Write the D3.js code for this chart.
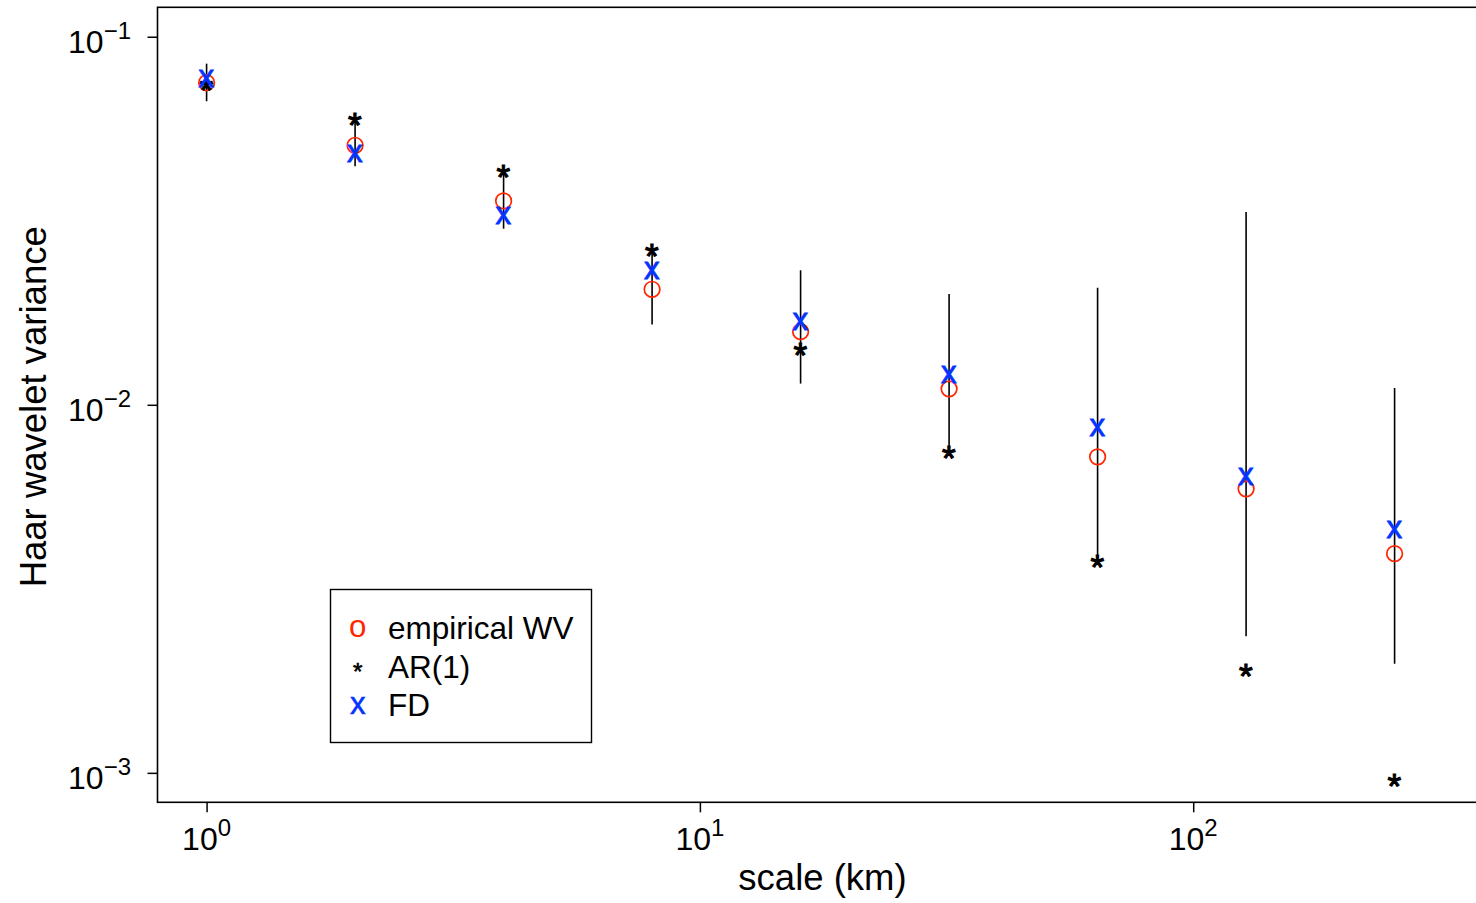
<!DOCTYPE html>
<html>
<head>
<meta charset="utf-8">
<script src="https://cdn.jsdelivr.net/npm/d3@7"></script>
<style>
  html, body { margin: 0; padding: 0; background: #fff; }
  svg { display: block; }
  text { font-family: "Liberation Sans", Arial, Helvetica, sans-serif; }
</style>
</head>
<body>
<svg id="chart" width="1476" height="903"></svg>
<script>
// ---- data ----
const scales = [1, 2, 4, 8, 16, 32, 64, 128, 256];
const empiricalWV = [0.0750, 0.0507, 0.0358, 0.0206, 0.0158, 0.01105, 0.00722, 0.00591, 0.00394];
const ciLower = [0.0668, 0.0445, 0.0301, 0.01653, 0.01142, 0.00742, 0.00373, 0.00235, 0.00198];
const ciUpper = [0.0845, 0.0585, 0.0436, 0.0269, 0.0232, 0.0200, 0.0208, 0.0334, 0.0111];
const ar1 = [0.0742, 0.0596, 0.0431, 0.0262, 0.0141, 0.00741, 0.00376, 0.00190, 0.000953];
const fd = [0.0770, 0.0482, 0.0327, 0.0232, 0.0168, 0.0121, 0.00866, 0.00637, 0.00458];
const xTickExps = [0, 1, 2];
const yTickExps = [-1, -2, -3];
const legendLabels = ["empirical WV", "AR(1)", "FD"];
const xTitle = "scale (km)";
const yTitle = "Haar wavelet variance";

// ---- layout ----
const RED = "#FF2600", BLUE = "#0433FF";
const FONT = '"Liberation Sans", Arial, Helvetica, sans-serif';
const plot = { left: 157.5, right: 1477.5, top: 7.3, bottom: 802.3 };
const svg = d3.select("#chart");

const x = d3.scaleLog().domain([Math.pow(10, -0.0995), Math.pow(10, 2.5763)]).range([plot.left, plot.right]);
const y = d3.scaleLog().domain([Math.pow(10, -0.92), Math.pow(10, -3.08)]).range([plot.top, plot.bottom]);

// glyph measuring helper for centring marker characters
const cnv = document.createElement("canvas").getContext("2d");
function glyphMetrics(ch, size) {
  cnv.font = size + "px " + FONT;
  const m = cnv.measureText(ch);
  return { l: m.actualBoundingBoxLeft, r: m.actualBoundingBoxRight, a: m.actualBoundingBoxAscent, d: m.actualBoundingBoxDescent };
}
function glyph(g, ch, size, cx, cy, color, sw) {
  const m = glyphMetrics(ch, size);
  g.append("text")
    .attr("x", cx - (m.r - m.l) / 2)
    .attr("y", cy + (m.a - m.d) / 2)
    .attr("font-size", size)
    .attr("fill", color)
    .attr("stroke", sw ? color : "none")
    .attr("stroke-width", sw || 0)
    .text(ch);
}
function sizeForWidth(ch, w) {
  const m = glyphMetrics(ch, 100);
  return 100 * w / (m.r + m.l);
}

// ---- axes ----
const xAxis = d3.axisBottom(x).tickValues(xTickExps.map(e => Math.pow(10, e))).tickSize(10).tickFormat("");
const yAxis = d3.axisLeft(y).tickValues(yTickExps.map(e => Math.pow(10, e))).tickSize(10).tickFormat("");
const gx = svg.append("g").attr("transform", `translate(0,${plot.bottom})`).call(xAxis);
const gy = svg.append("g").attr("transform", `translate(${plot.left},0)`).call(yAxis);
[gx, gy].forEach(g => {
  g.select(".domain").remove();
  g.selectAll("line").attr("stroke", "#000").attr("stroke-width", 1.5);
});

const tickFs = 32;
// x tick labels
xTickExps.forEach(e => {
  const t = svg.append("text")
    .attr("x", x(Math.pow(10, e)))
    .attr("y", 850)
    .attr("text-anchor", "middle")
    .attr("font-size", tickFs);
  t.append("tspan").text("10");
  t.append("tspan").attr("font-size", tickFs * 0.75).attr("dy", -14).text(String(e));
});
// y tick labels
yTickExps.forEach(e => {
  const t = svg.append("text")
    .attr("x", 131)
    .attr("y", y(Math.pow(10, e)) + 16)
    .attr("text-anchor", "end")
    .attr("font-size", tickFs);
  t.append("tspan").text("10");
  t.append("tspan").attr("font-size", tickFs * 0.75).attr("dy", -14).text("\u2212" + Math.abs(e));
});

// axis titles
svg.append("text")
  .attr("x", (plot.left + plot.right) / 2 + 5)
  .attr("y", 890)
  .attr("text-anchor", "middle")
  .attr("font-size", 36.5)
  .text(xTitle);
svg.append("text")
  .attr("transform", `translate(46,${(plot.top + plot.bottom) / 2 + 2}) rotate(-90)`)
  .attr("text-anchor", "middle")
  .attr("font-size", 36.5)
  .text(yTitle);

// ---- data marks ----
const rows = scales.map((s, i) => ({ s, wv: empiricalWV[i], lo: ciLower[i], hi: ciUpper[i], ar: ar1[i], fd: fd[i] }));

svg.append("g").selectAll("line").data(rows).join("line")
  .attr("x1", d => x(d.s)).attr("x2", d => x(d.s))
  .attr("y1", d => y(d.lo)).attr("y2", d => y(d.hi))
  .attr("stroke", "#000").attr("stroke-width", 1.6);

svg.append("g").selectAll("circle").data(rows).join("circle")
  .attr("cx", d => x(d.s)).attr("cy", d => y(d.wv)).attr("r", 7.8)
  .attr("fill", "none").attr("stroke", RED).attr("stroke-width", 1.7);

const starSize = sizeForWidth("*", 13);
const gStar = svg.append("g");
rows.forEach(d => glyph(gStar, "*", starSize, x(d.s), y(d.ar), "#000", 1.1));

const xSize = sizeForWidth("x", 15);
const gX = svg.append("g");
rows.forEach(d => glyph(gX, "x", xSize, x(d.s), y(d.fd), BLUE, 0.8));

// ---- plot box ----
svg.append("rect")
  .attr("x", plot.left).attr("y", plot.top)
  .attr("width", plot.right - plot.left).attr("height", plot.bottom - plot.top)
  .attr("fill", "none").attr("stroke", "#000").attr("stroke-width", 1.6);

// ---- legend ----
const leg = svg.append("g");
leg.append("rect").attr("x", 330.5).attr("y", 589.5).attr("width", 261).attr("height", 153)
  .attr("fill", "#fff").attr("stroke", "#000").attr("stroke-width", 1.4);
const legRowY = [628, 667, 705];
const legSyms = [["o", RED, 15, 0], ["*", "#000", 9, 0.6], ["x", BLUE, 15, 0.5]];
legendLabels.forEach((lab, i) => {
  const [ch, col, w, sw] = legSyms[i];
  glyph(leg, ch, sizeForWidth(ch, w), 358, legRowY[i], col, sw);
  leg.append("text").attr("x", 388).attr("y", legRowY[i] + 11).attr("font-size", 31.5).text(lab);
});
</script>
</body>
</html>
